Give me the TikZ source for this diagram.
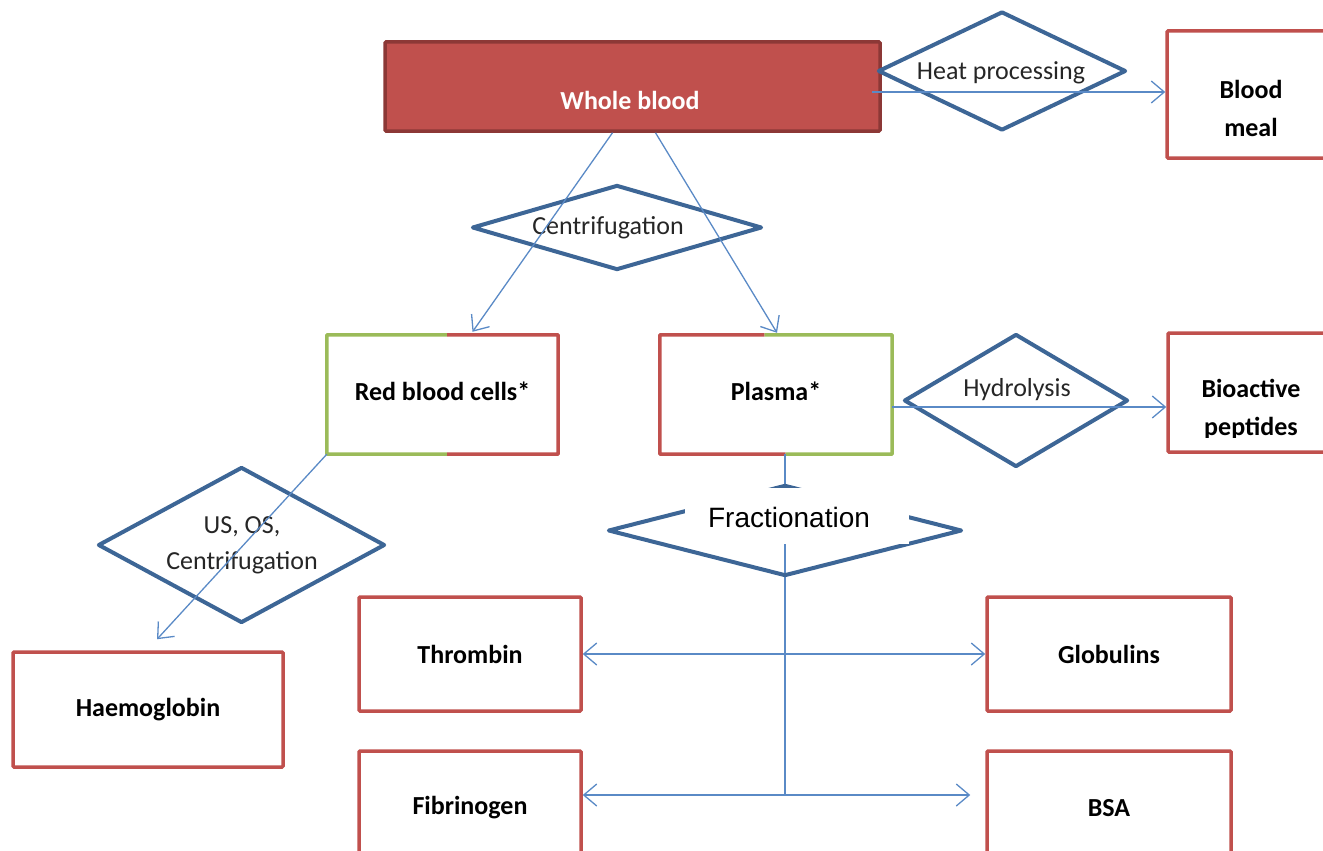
\documentclass[tikz,border=0pt]{standalone}
\usepackage{fontspec}
\setmainfont{Carlito}
\newfontfamily\arialfont{Liberation Sans}
\usetikzlibrary{shapes.geometric,arrows.meta,calc}
\definecolor{boxred}{HTML}{C0504D}
\definecolor{boxdark}{HTML}{8C3836}
\definecolor{boxgreen}{HTML}{9BBB59}
\definecolor{diablue}{HTML}{3D6696}
\definecolor{linkblue}{HTML}{5A8AC6}
\begin{document}
\begin{tikzpicture}[x=1pt,y=-1pt,
  >={Straight Barb[length=13pt,width=22pt]},
  box/.style={rectangle, draw=boxred, line width=3.5pt, fill=white, inner sep=0pt, rounded corners=1pt},
  bare/.style={rectangle, inner sep=0pt},
  lbl/.style={font=\fontsize{26}{38}\selectfont\bfseries, align=center, text=black},
  dia/.style={diamond, draw=diablue, line width=4pt, inner sep=0pt, line join=round},
  dlbl/.style={font=\fontsize{26}{36}\selectfont, align=center, text=black!85},
  redline/.style={draw=boxred, line width=3.5pt, line join=round},
  greenline/.style={draw=boxgreen, line width=3.5pt, line join=round},
  plain/.style={draw=linkblue, line width=1.3pt},
  link/.style={plain, ->},
  twoway/.style={plain, <->}]
\useasboundingbox (0,0) rectangle (1323,851);

% whole blood and heat processing
\node[box, fill=boxred, draw=boxdark, minimum width=495, minimum height=89] (whole) at (632.5,86.5) {};
\node[lbl, text=white] (wholetxt) at (630,100) {Whole blood};
\node[dia, minimum width=248, minimum height=119] (heat) at (1002,71) {};
\node[dlbl] (heattxt) at (1001,73) {Heat processing};
\node[box, minimum width=166, minimum height=127] (meal) at (1250,94.5) {};
\node[lbl] (mealtxt) at (1251,108) {Blood\\meal};

% centrifugation
\node[dia, minimum width=290, minimum height=85] (centr) at (617,227.5) {};
\node[dlbl] (centrtxt) at (608,228) {Centrifugation};

% red blood cells: green and red halves of the frame
\node[bare, minimum width=231, minimum height=119, lbl, text depth=6pt] (rbc) at (442.5,394.5) {Red blood cells*};
\draw[greenline] ($(rbc.north west)!0.52!(rbc.north east)$) -- (rbc.north west) -- (rbc.south west) -- ($(rbc.south west)!0.52!(rbc.south east)$);
\draw[redline] ($(rbc.north west)!0.52!(rbc.north east)$) -- (rbc.north east) -- (rbc.south east) -- ($(rbc.south west)!0.52!(rbc.south east)$);

% plasma
\node[bare, minimum width=232, minimum height=119, lbl, text depth=6pt] (plasma) at (776,394.5) {Plasma*};
\draw[greenline] ($(plasma.north west)!0.45!(plasma.north east)$) -- (plasma.north east) -- (plasma.south east) -- ($(plasma.south west)!0.54!(plasma.south east)$);
\draw[redline] ($(plasma.north west)!0.45!(plasma.north east)$) -- (plasma.north west) -- (plasma.south west) -- ($(plasma.south west)!0.54!(plasma.south east)$);

% hydrolysis
\node[dia, minimum width=224, minimum height=133] (hydro) at (1016,400.5) {};
\node[dlbl] (hydrotxt) at (1017,390) {Hydrolysis};
\node[box, minimum width=164, minimum height=119] (bio) at (1250,392.5) {};
\begin{scope}
  \clip (1168,333) rectangle (1323,437);
  \node[lbl] (biotxt) at (1251,409) {Bioactive\\peptides};
\end{scope}

% red blood cell processing
\node[dia, minimum width=287, minimum height=156] (usos) at (241.5,545) {};
\node[dlbl] (usostxt) at (242,545) {US, OS,\\Centrifugation};
\node[box, minimum width=270, minimum height=115, lbl] (hb) at (148,709.5) {Haemoglobin};

% plasma fractions
\node[box, minimum width=222, minimum height=114, lbl] (thr) at (470,654) {Thrombin};
\node[box, minimum width=244, minimum height=114, lbl] (glob) at (1109,654) {Globulins};
\node[box, minimum width=222, minimum height=114, lbl] (fib) at (470,808) {Fibrinogen};
\node[box, minimum width=244, minimum height=114, lbl] (bsa) at (1109,808) {BSA};

% fractionation trunk, diamond and its label panel
\coordinate (hub) at (785,795);
\draw[plain] (hub |- plasma.south) -- (hub);
\node[dia, minimum width=354, minimum height=91] (frac) at (785,530.5) {};
\node[bare, fill=white, minimum width=224, minimum height=56] (fracbg) at (797,516) {};
\node[font=\arialfont\fontsize{28}{32}\selectfont, text=black] (fractxt) at (789,517) {Fractionation};

% connectors
\draw[link] ($(whole.south)+(-20,0)$) -- ($(rbc.north)+(30,-3)$);
\draw[link] ($(whole.south)+(23,0)$) -- ($(plasma.north)+(1,-2)$);
\draw[link] ($(whole.east)+(-10,5.5)$) coordinate (hs) -- (hs -| meal.west);
\draw[link] ($(plasma.east)+(0,12.5)$) coordinate (hy) -- (hy -| bio.west);
\draw[link] (rbc.south west) -- ($(hb.north)+(9,-11)$);
\draw[twoway] (thr.east) -- (glob.west);
\draw[link] (hub) -- (fib.east |- hub);
\draw[link] (hub) -- ($(bsa.west |- hub)+(-15,0)$);
\end{tikzpicture}
\end{document}
